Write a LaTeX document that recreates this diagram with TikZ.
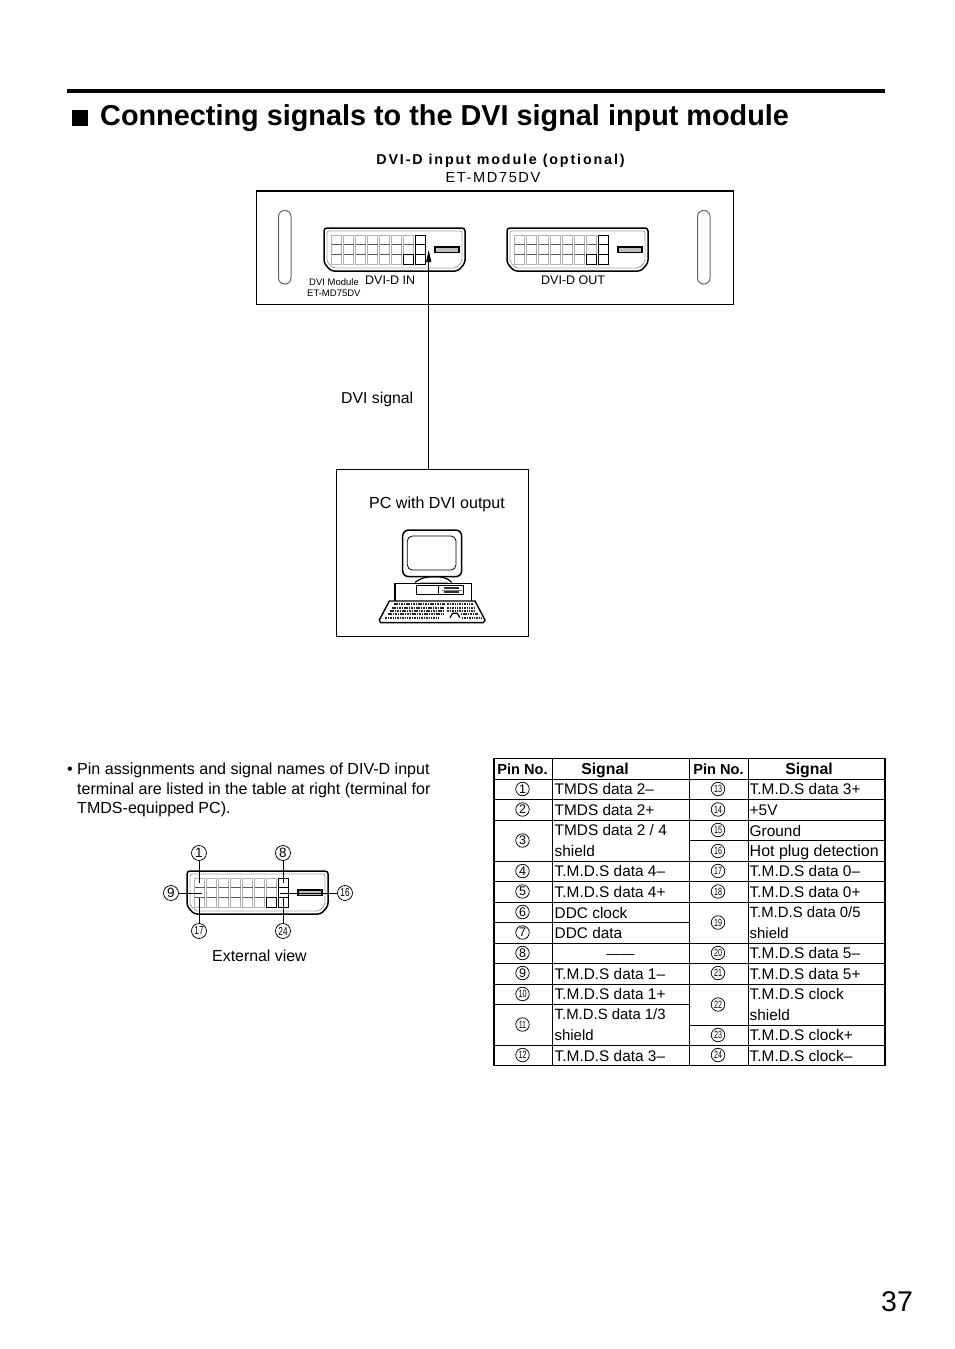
\documentclass[tikz,border=0pt]{standalone}
\usepackage{fontspec}
\setmainfont{Liberation Sans}
\usetikzlibrary{arrows.meta}
\newcommand{\fs}[1]{\fontsize{#1}{#1}\selectfont}
\tikzset{
  txt/.style={anchor=base west,inner sep=0,font=\fs{16.05}},
  tbl/.style={anchor=base west,inner sep=0,font=\fs{15.4}},
  two/.style={anchor=west,inner sep=0,align=left,font=\fontsize{15.4}{20.45}\selectfont},
  hdr/.style={anchor=base,inner sep=0,font=\bfseries\fs{15.8}},
  hdp/.style={anchor=base,inner sep=0,font=\bfseries\fs{14.6}},
  pin/.style={circle,draw,line width=.75,inner sep=0,minimum size=13.5,font=\fs{12.5}},
  pint/.style={circle,draw,line width=.75,inner sep=0,minimum size=13.5,font=\fs{10.5}\addfontfeature{FakeStretch=0.68}},
  extpin/.style={pin,minimum size=15,font=\fs{13.5}},
  extpint/.style={pint,minimum size=15,font=\fs{11.5}\addfontfeature{FakeStretch=0.72}},
  rule/.style={line width=1},
  dvi/.pic={
    \draw[line width=1.5,rounded corners=3] (0,35)--(0,0)--(141,0)--(141,35)--(134,43)--(7,43)--cycle;
    \draw[line width=.9,gray!70,rounded corners=2] (3,34)--(3,3)--(138,3)--(138,34)--(132,40)--(9,40)--cycle;
    \foreach \c in {0,...,6}{
      \foreach \r in {0,1,2}{
        \draw[line width=.8,gray!60] (7.7+12*\c,7+9.7*\r) rectangle ++(10,9.7);
      }
      \draw[line width=1,black!65] (7.7+12*\c,16.7) -- ++(10,0);
      \draw[line width=1,black!65] (7.7+12*\c,26.4) -- ++(10,0);
    }
    \draw[line width=1,fill=white] (79.7,26.4) rectangle ++(10,9.7);
    \foreach \r in {0,1,2}{\draw[line width=1] (91.7,7+9.7*\r) rectangle ++(10,9.7);}
    \draw[line width=1.4,fill=gray!50] (111,19) rectangle (135,24.5);
  }
}
\begin{document}
\begin{tikzpicture}[x=1pt,y=-1pt,line cap=butt]
\useasboundingbox (0,0) rectangle (954,1349);
% title
\fill (67,89) rectangle (885,93);
\fill (71.5,110) rectangle (87.5,126);
\node[anchor=base west,inner sep=0,font=\bfseries\fs{28.83}] (title) at (100,125.4) {Connecting signals to the DVI signal input module};
\node[anchor=base,inner sep=0,font=\bfseries\fs{14.3}\addfontfeature{LetterSpace=13}] (mod1) at (500.5,164) {DVI-D input module (optional)};
\node[anchor=base,inner sep=0,font=\fs{14.6}\addfontfeature{LetterSpace=11}] (mod2) at (493,182) {ET-MD75DV};
% module
\node[draw,line width=1,inner sep=0,minimum width=477.5,minimum height=113,anchor=north west] (module) at (255.5,191) {};
\draw[line width=2] (module.north west) -- (module.north east);
\foreach \x in {278.5,697.5}{
  \draw[line width=1,gray!80!black,rounded corners=6] (\x,210.5) rectangle ++(12.5,73.5);
}
\pic at (324,228) {dvi};
\pic at (507,228) {dvi};
\node[anchor=base west,inner sep=0,font=\fs{9.5}] (mlab1) at (309,285.5) {DVI Module};
\node[anchor=base west,inner sep=0,font=\fs{9.5}] (mlab2) at (307,296.5) {ET-MD75DV};
\node[anchor=base west,inner sep=0,font=\fs{12.5}] (inlab) at (365,284.5) {DVI-D IN};
\node[anchor=base west,inner sep=0,font=\fs{12.5}] (outlab) at (541,284.5) {DVI-D OUT};
% PC
\node[draw,line width=1,inner sep=0,minimum width=192.5,minimum height=167,anchor=north west] (pc) at (335.5,469) {};
\coordinate (pcout) at (428.7,469);
\coordinate (dvitip) at (428.7,250);
\draw[line width=1,-{Triangle[length=12,width=5]}] (pcout) -- (dvitip);
\node[anchor=base west,inner sep=0,font=\fs{15.8}] (siglab) at (341,403) {DVI signal};
\node[txt] (pclab) at (369,508.5) {PC with DVI output};
% computer
\begin{scope}[shift={(370,525)},x=0.3333pt,y=-0.3333pt]
  \draw[line width=1.2] (135,172) .. controls (150,160) and (170,155) .. (185,155) -- (200,155) .. controls (215,155) and (235,160) .. (245,172);
  \fill[gray!60] (150,172) rectangle (235,176);
  \draw[line width=1.5,fill=white,rounded corners=6] (98,15) rectangle (275,155);
  \draw[line width=.8,rounded corners=5] (112,33) rectangle (258,135);
  \draw[line width=1.3] (75,228) -- (75,175) -- (305,175) -- (305,228);
  \draw[line width=.8] (140,181) rectangle (280,208);
  \draw[line width=.9] (205,181) -- (205,208);
  \draw[line width=1.1,black!80] (222,189) -- (268,189) (222,201) -- (268,201);
  \draw[line width=.8,gray] (215,195) -- (275,195);
  \draw[line width=1.4,fill=white] (58,228) -- (315,228) -- (345,285) -- (340,293) -- (32,293) -- (28,285) -- cycle;
  \foreach \y/\a/\b/\c/\d in {238/72/225/232/308, 248/66/222/232/312, 258/60/222/232/318, 268/54/222/272/324, 278/46/205/276/334}{
    \draw[line width=1.7,dash pattern=on 1.5pt off .9pt,black!85] (\a,\y) -- (\b,\y) (\c,\y) -- (\d,\y);
  }
  \draw[line width=1.2] (240,278) -- (248,265) -- (262,265) -- (270,278);
\end{scope}
% bullet text
\node[txt] (b0) at (67,774) {•};
\node[txt] (b1) at (77,774) {Pin assignments and signal names of DIV-D input};
\node[txt] (b2) at (77,794) {terminal are listed in the table at right (terminal for};
\node[txt] (b3) at (77,813.5) {TMDS-equipped PC).};
% external view
\pic at (187,871) {dvi};
\node[extpin] (e1) at (199,853) {1};
\node[extpin] (e8) at (283,853) {8};
\node[extpin] (e9) at (171,893) {9};
\node[extpint] (e16) at (345,893) {16};
\node[extpint] (e17) at (199,931) {17};
\node[extpint] (e24) at (283,931) {24};
\coordinate (c1) at (199,883);
\coordinate (c8) at (283,883);
\coordinate (c9) at (202,893);
\coordinate (c16) at (280,893);
\coordinate (c17) at (199,898);
\coordinate (c24) at (283,898);
\foreach \a/\b in {e1/c1,e8/c8,e9/c9,e16/c16,e17/c17,e24/c24}{\draw[line width=.9] (\a) -- (\b);}
\node[anchor=base west,inner sep=0,font=\fs{15.9}] (ext) at (212,961) {External view};
% table
\draw[line width=1.6] (493.8,758.5) rectangle (884.8,1065.5);
\foreach \x in {552.2,689.2,748.2}{\draw[rule] (\x,758.5) -- (\x,1065.5);}
\foreach \y in {779,799.5,820,861,881.5,902,922.5,943,963.5,984,1004.5,1045}{\draw[rule] (494,\y) -- (689,\y);}
\foreach \y in {779,799.5,820,840.5,861,881.5,902,943,963.5,984,1025,1045}{\draw[rule] (689,\y) -- (885,\y);}
\node[hdp] (h1) at (522.5,774) {Pin No.};
\node[hdr] (h2) at (605,774) {Signal};
\node[hdp] (h3) at (718.5,774) {Pin No.};
\node[hdr] (h4) at (809,774) {Signal};
% pins left
\foreach \n/\y in {1/789,2/809.5,3/840.5,4/871,5/891.5,6/912,7/932.5,8/953,9/973}{
  \node[pin] (p\n) at (522.5,\y) {\n};
}
\foreach \n/\y in {10/994,11/1024.5,12/1055}{
  \node[pint] (p\n) at (522.5,\y) {\n};
}
\foreach \n/\y in {13/789,14/809.5,15/830,16/851,17/871,18/891.5,19/922.5,20/953,21/973,22/1004.5,23/1035,24/1055}{
  \node[pint] (p\n) at (718,\y) {\n};
}
% signals left
\foreach \n/\y/\t in {1/794.5/{TMDS data 2–},2/815/{TMDS data 2+},4/876.5/{T.M.D.S data 4–},5/897/{T.M.D.S data 4+},6/918/{DDC clock},7/938.5/{DDC data},9/979/{T.M.D.S data 1–},10/999.5/{T.M.D.S data 1+},12/1061/{T.M.D.S data 3–}}{
  \node[tbl] (s\n) at (554.5,\y) {\t};
}
\node[two] (s3) at (554.5,840.5) {TMDS data 2 / 4\\shield};
\node[two,font=\fontsize{14.9}{20.45}\selectfont] (s11) at (554.5,1024.5) {T.M.D.S data 1/3\\shield};
\node[anchor=center,inner sep=0,font=\fs{14}] (s8) at (620.5,956) {——};
% signals right
\foreach \n/\y/\t in {13/794.5/{T.M.D.S data 3+},14/815.5/{+5V},15/836/{Ground},17/876.5/{T.M.D.S data 0–},18/897/{T.M.D.S data 0+},20/958.5/{T.M.D.S data 5–},21/979/{T.M.D.S data 5+},23/1040.5/{T.M.D.S clock+},24/1061/{T.M.D.S clock–}}{
  \node[tbl] (s\n) at (749.5,\y) {\t};
}
\node[anchor=base west,inner sep=0,font=\fs{16}] (s16) at (749.5,856.5) {Hot plug detection};
\node[two,font=\fontsize{14.9}{20.45}\selectfont] (s19) at (749.5,922.5) {T.M.D.S data 0/5\\shield};
\node[two] (s22) at (749.5,1004.5) {T.M.D.S clock\\shield};
% page
\node[anchor=base west,inner sep=0,font=\fs{28.5}] (page) at (881,1311) {37};
\end{tikzpicture}
\end{document}
